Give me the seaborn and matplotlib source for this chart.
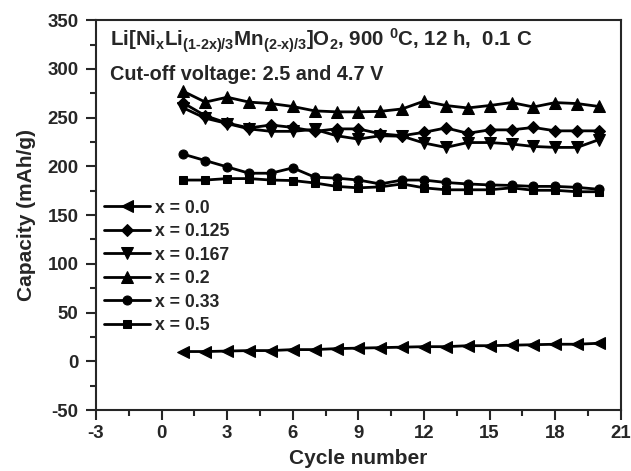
import matplotlib
matplotlib.use("Agg")
import matplotlib.pyplot as plt
import seaborn as sns
import pandas as pd
import numpy as np
from matplotlib.ticker import MultipleLocator

# ---- data ----
cycles = list(range(1, 21))
labels = ["x = 0.0", "x = 0.125", "x = 0.167", "x = 0.2", "x = 0.33", "x = 0.5"]
cap_x00 = [10, 10, 10.5, 11, 11, 12, 12, 13, 13.5, 14, 14.5, 15, 15, 16, 16, 16.5, 17, 17.5, 17.5, 18.5]
cap_x0125 = [265, 252, 244.5, 239.5, 242.5, 240, 236, 238.5, 238.5, 233.5, 231.5, 235, 239.5, 234, 237.5, 237.5, 240, 236.5, 236.5, 236.5]
cap_x0167 = [260, 249.5, 244, 238.5, 236, 236, 238, 231.5, 228, 231.5, 231, 224, 219.5, 224.5, 224.5, 223, 220.5, 219.5, 219.5, 227.5]
cap_x02 = [277, 266, 271, 266, 264.5, 261.5, 257, 256, 256, 256.5, 259, 267, 262.5, 260, 262.5, 265.5, 261, 265.5, 264.5, 261.5]
cap_x033 = [212.5, 206, 199.5, 193, 193, 198.5, 189, 188, 186, 182, 186, 186, 183.5, 182, 181, 180.5, 179.5, 179.5, 178.5, 176.5]
cap_x05 = [186, 186, 187.5, 187.5, 186, 185.5, 183, 179.5, 178, 179, 182, 178, 176, 176, 176, 178, 175.5, 175.5, 174, 174]

series = [cap_x00, cap_x0125, cap_x0167, cap_x02, cap_x033, cap_x05]
markers = {"x = 0.0": "<", "x = 0.125": "D", "x = 0.167": "v",
           "x = 0.2": "^", "x = 0.33": "o", "x = 0.5": "s"}
msizes = {"x = 0.0": 8, "x = 0.125": 6.5, "x = 0.167": 8,
          "x = 0.2": 8, "x = 0.33": 6.5, "x = 0.5": 6}

xticks = [-3, 0, 3, 6, 9, 12, 15, 18, 21]
yticks = [-50, 0, 50, 100, 150, 200, 250, 300, 350]

rows = []
for lab, vals in zip(labels, series):
    for c, v in zip(cycles, vals):
        rows.append({"Cycle": c, "Capacity": v, "Sample": lab})
df = pd.DataFrame(rows)

sns.set_style("ticks")
plt.rcParams["font.family"] = ["Liberation Sans", "DejaVu Sans"]
plt.rcParams["font.weight"] = "bold"
plt.rcParams["axes.labelweight"] = "bold"
plt.rcParams["axes.unicode_minus"] = False
plt.rcParams["mathtext.fontset"] = "custom"
plt.rcParams["mathtext.rm"] = "Liberation Sans:bold"
plt.rcParams["mathtext.it"] = "Liberation Sans:bold"
plt.rcParams["mathtext.bf"] = "Liberation Sans:bold"
plt.rcParams["mathtext.default"] = "rm"

fig = plt.figure(figsize=(6.31, 4.71), dpi=100)
ax = fig.add_axes([0.152, 0.1295, 0.832, 0.8275])

for lab in labels:
    sub = df[df["Sample"] == lab]
    sns.lineplot(data=sub, x="Cycle", y="Capacity", ax=ax, color="black",
                 marker=markers[lab], markersize=msizes[lab], linewidth=2.0,
                 markeredgecolor="black", markerfacecolor="black",
                 label=lab, estimator=None)

ax.set_xlim(-3, 21)
ax.set_ylim(-50, 350)
ax.set_xticks(xticks)
ax.set_yticks(yticks)
ax.xaxis.set_minor_locator(MultipleLocator(1.5))
ax.yaxis.set_minor_locator(MultipleLocator(25))
ax.tick_params(which="major", direction="out", length=7, width=1.5,
               labelsize=13.4, pad=3.5, top=False, right=False)
ax.tick_params(axis="y", which="major", pad=5.5)
ax.tick_params(which="minor", direction="out", length=4, width=1.5,
               top=False, right=False)
for lbl in ax.get_xticklabels() + ax.get_yticklabels():
    lbl.set_fontweight("bold")
for sp in ax.spines.values():
    sp.set_linewidth(1.5)
    sp.set_visible(True)

ax.set_xlabel("Cycle number", fontsize=15, fontweight="bold", labelpad=5)
ax.set_ylabel("Capacity (mAh/g)", fontsize=15, fontweight="bold", labelpad=8)

ax.text(0.027, 0.932,
        r"Li[Ni$_{x}$Li$_{(1\text{-}2x)/3}$Mn$_{(2\text{-}x)/3}$]O$_{2}$, 900 $^{0}$C, 12 h,  0.1 C",
        transform=ax.transAxes, fontsize=14.8, fontweight="bold", va="baseline")
ax.text(0.027, 0.847, "Cut-off voltage: 2.5 and 4.7 V",
        transform=ax.transAxes, fontsize=14.3, fontweight="bold", va="baseline")

leg = ax.legend(loc="upper left", bbox_to_anchor=(0.015, 0.54), frameon=False,
                borderaxespad=0, borderpad=0, handlelength=2.6,
                handletextpad=0.3, labelspacing=0.37,
                prop={"size": 12.7, "weight": "bold"})

fig.savefig("out.png", dpi=100)
